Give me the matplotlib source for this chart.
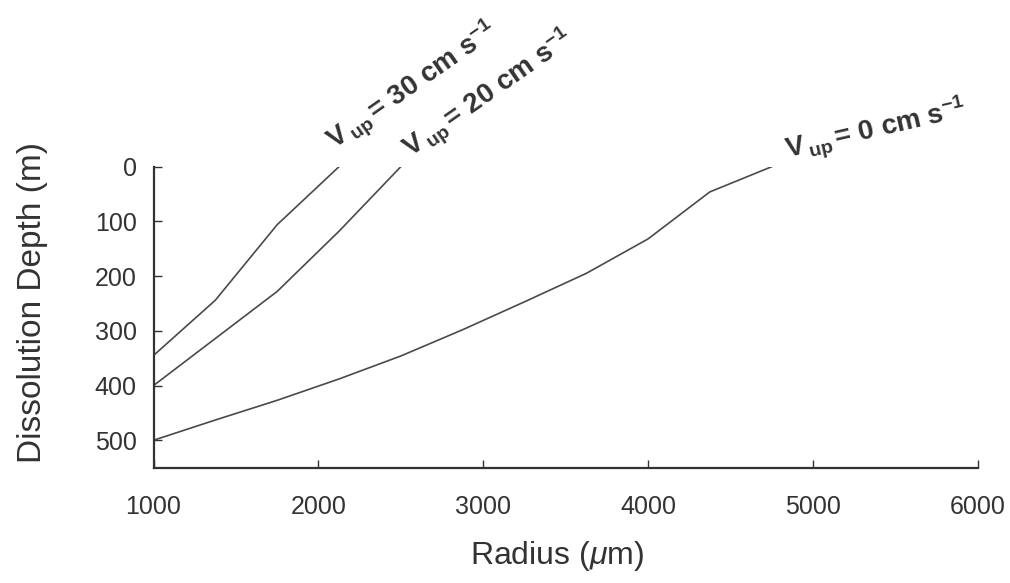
import numpy as np
import matplotlib
matplotlib.use('Agg')
import matplotlib.pyplot as plt

plt.rcParams['font.family'] = ['Liberation Sans', 'DejaVu Sans']
plt.rcParams['mathtext.fontset'] = 'custom'
plt.rcParams['mathtext.rm'] = 'Liberation Sans'
plt.rcParams['mathtext.it'] = 'Liberation Sans:italic'
plt.rcParams['mathtext.bf'] = 'Liberation Sans:bold'

# radius (um) vs dissolution depth (m) for three upwelling speeds
radius_30 = [1000, 1375, 1750, 2125]
depth_30 = [345, 244, 106, 0]

radius_20 = [1000, 1375, 1750, 2125, 2500]
depth_20 = [400, 314, 228, 118, 0]

radius_0 = [1000, 1375, 1750, 2125, 2500, 2875, 3250, 3625, 4000, 4375, 4750]
depth_0 = [500, 463, 427, 388, 346, 298, 247, 195, 132, 46, 0]

xticks = [1000, 2000, 3000, 4000, 5000, 6000]
yticks = [0, 100, 200, 300, 400, 500]

line_col = '#4a4a4a'
text_col = '#333333'

fig = plt.figure(figsize=(10.1, 5.83), dpi=100)
ax = fig.add_axes([0.152, 0.197, 0.816, 0.517])

ax.plot(radius_30, depth_30, color=line_col, lw=1.2)
ax.plot(radius_20, depth_20, color=line_col, lw=1.2)
ax.plot(radius_0, depth_0, color=line_col, lw=1.2)

ax.set_xlim(1000, 6000)
ax.set_ylim(551, 0)
ax.set_xticks(xticks)
ax.set_yticks(yticks)

for s in ['top', 'right']:
    ax.spines[s].set_visible(False)
for s in ['left', 'bottom']:
    ax.spines[s].set_color('#333333')
    ax.spines[s].set_linewidth(1.6)

ax.tick_params(axis='both', direction='in', length=6, width=1, colors='#333333',
               labelsize=18, labelcolor=text_col)
ax.tick_params(axis='x', pad=19)
ax.tick_params(axis='y', pad=12)

ax.set_xlabel(r'Radius ($\mu$m)', fontsize=23, color=text_col)
ax.xaxis.set_label_coords(0.49, -0.235)
ax.set_ylabel('Dissolution Depth (m)', fontsize=24, color=text_col)
ax.yaxis.set_label_coords(-0.128, 0.55)

# curve labels
lab_kw = dict(fontsize=20, fontweight='bold', color=text_col, ha='left',
              va='baseline', rotation_mode='anchor', clip_on=False)
ax.text(2100, -30, r'V$\,_{\mathbf{up}}\,$= 30 cm s$^{\mathbf{-1}}$', rotation=35, **lab_kw)
ax.text(2560, -16, r'V$\,_{\mathbf{up}}\,$= 20 cm s$^{\mathbf{-1}}$', rotation=35, **lab_kw)
ax.text(4850, -14, r'V$\,_{\mathbf{up}}\,$= 0 cm s$^{\mathbf{-1}}$', rotation=13, **lab_kw)

fig.savefig('out.png', dpi=100)
